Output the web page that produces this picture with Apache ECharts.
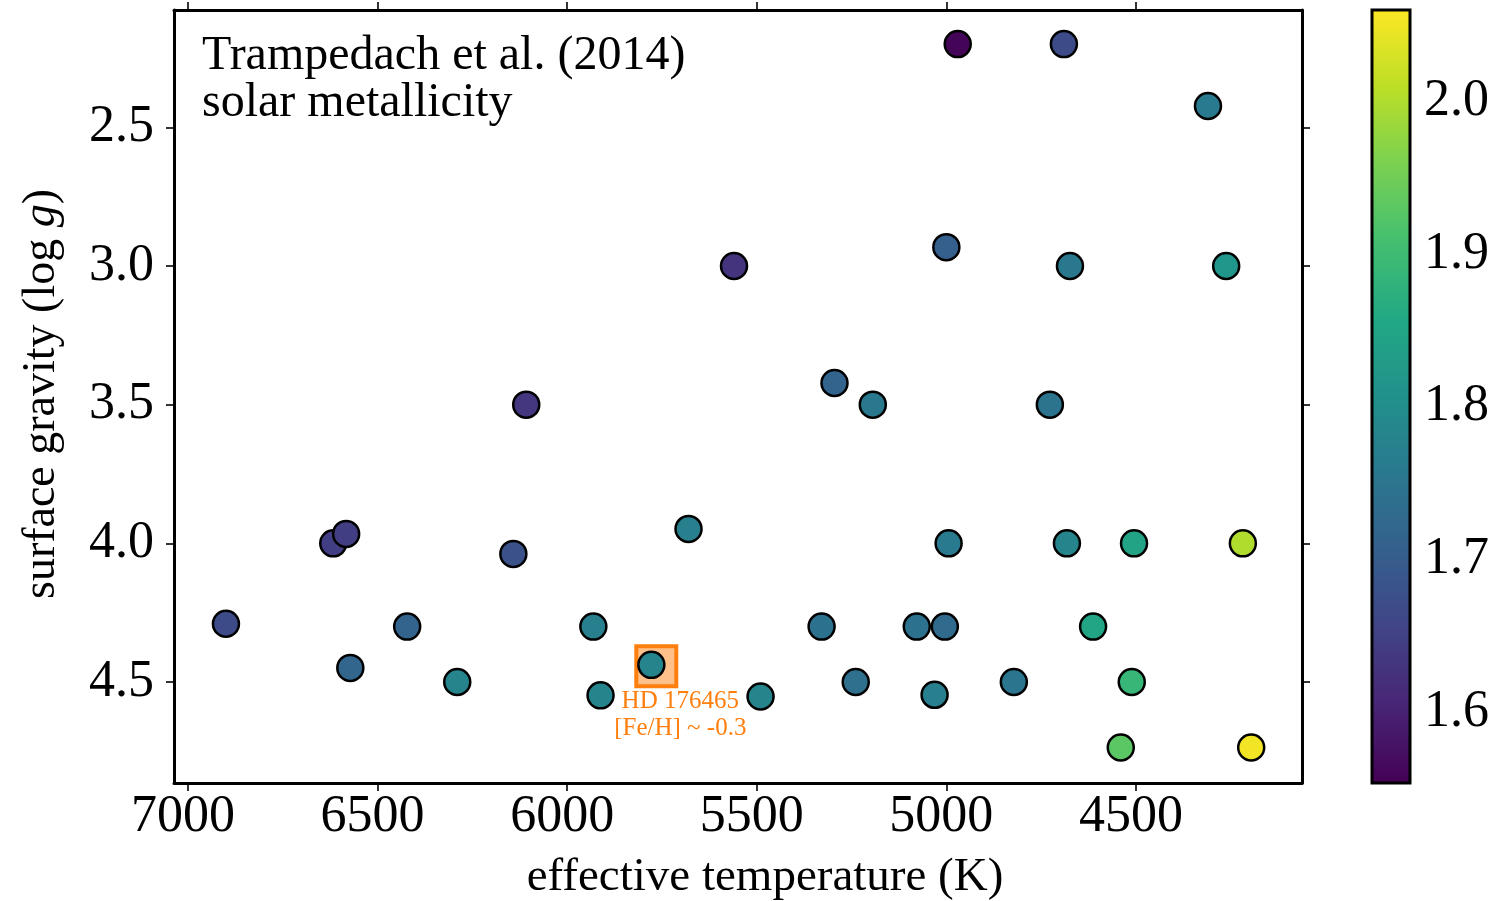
<!DOCTYPE html>
<html>
<head>
<meta charset="utf-8">
<script src="https://cdn.jsdelivr.net/npm/echarts@6/dist/echarts.min.js"></script>
<style>html,body{margin:0;padding:0;background:#fff}#c{width:1502px;height:901px}</style>
</head>
<body>
<div id="c"></div>
<script>
// Data
const teff = [4970, 4690, 4310, 5560, 5000, 4674, 4262, 6108, 5295, 5194, 4727,
              6617, 6583, 6142, 5680, 4994, 4682, 4505, 4218, 6900, 6422, 6572,
              6290, 5931, 5778, 5912, 5490, 5329, 5239, 5078, 5004, 5031, 4822,
              4613, 4511, 4540, 4196];
const logg = [2.20, 2.20, 2.423, 3.00, 2.932, 3.00, 3.00, 3.50, 3.422, 3.50, 3.50,
              4.00, 3.966, 4.038, 3.948, 4.00, 4.00, 4.00, 4.00, 4.29, 4.30, 4.449,
              4.50, 4.30, 4.438, 4.548, 4.552, 4.30, 4.50, 4.30, 4.30, 4.546, 4.50,
              4.30, 4.50, 4.736, 4.736];
const colorVal = [1.56, 1.67, 1.76, 1.63, 1.706, 1.756, 1.817, 1.635, 1.716, 1.756, 1.746,
                  1.645, 1.645, 1.68, 1.77, 1.76, 1.78, 1.847, 1.999, 1.67, 1.716, 1.72,
                  1.78, 1.77, 1.78, 1.78, 1.78, 1.745, 1.74, 1.745, 1.73, 1.77, 1.75,
                  1.85, 1.888, 1.928, 2.05];
const xTicks = [7000, 6500, 6000, 5500, 5000, 4500];
const yTicks = [2.5, 3.0, 3.5, 4.0, 4.5];
const cbTicks = [1.6, 1.7, 1.8, 1.9, 2.0];
const highlight = [[5765, 4.443]];
const highlightLabel = ['HD 176465', '[Fe/H] ~ -0.3'];
const annotation = ['Trampedach et al. (2014)', 'solar metallicity'];
const xTitle = 'effective temperature (K)';
const cbRange = [1.554, 2.0595];
const xRange = [4062, 7037];
const yRange = [2.077, 4.864];

const viridis = ['#440154','#482475','#414487','#355f8d','#2a788e','#21918c','#22a884','#44bf70','#7ad151','#bddf26','#fde725'];
const points = teff.map((t, i) => [t, logg[i], colorVal[i]]);

const FONT = 'Liberation Serif';
const axisLineStyle = {color: '#000', width: 3};
const tickStyle = {color: '#000', width: 1.6};

function xAx(pos, showLabel) {
  return {
    type: 'value', gridIndex: 0, position: pos, min: xRange[0], max: xRange[1], inverse: true,
    axisLine: {show: true, onZero: false, lineStyle: axisLineStyle},
    axisTick: {show: true, length: 8, lineStyle: tickStyle, customValues: xTicks},
    axisLabel: {show: showLabel, customValues: xTicks, fontSize: 52, fontFamily: FONT, color: '#000', margin: 8,
                padding: [0, 10, 0, 0], formatter: v => String(v)},
    splitLine: {show: false}
  };
}
function yAx(pos, showLabel) {
  return {
    type: 'value', gridIndex: 0, position: pos, min: yRange[0], max: yRange[1], inverse: true,
    axisLine: {show: true, onZero: false, lineStyle: axisLineStyle},
    axisTick: {show: true, length: 8, lineStyle: tickStyle, customValues: yTicks},
    axisLabel: {show: showLabel, customValues: yTicks, fontSize: 52, fontFamily: FONT, color: '#000', margin: 20,
                formatter: v => Number(v).toFixed(1)},
    splitLine: {show: false}
  };
}

const gradStops = viridis.map((c, i) => ({offset: 1 - i / (viridis.length - 1), color: c}));

const option = {
  backgroundColor: '#fff',
  animation: false,
  grid: [
    {left: 174, top: 10, width: 1128, height: 773},
    {left: 1372, top: 10, width: 38, height: 773}
  ],
  xAxis: [
    xAx('bottom', true),
    xAx('top', false),
    {type: 'value', gridIndex: 1, min: 0, max: 1, show: false}
  ],
  yAxis: [
    yAx('left', true),
    yAx('right', false),
    {type: 'value', gridIndex: 1, position: 'right', min: cbRange[0], max: cbRange[1],
     axisLine: {show: false},
     axisTick: {show: true, length: 8, lineStyle: tickStyle, customValues: cbTicks},
     axisLabel: {show: true, customValues: cbTicks, fontSize: 52, fontFamily: FONT, color: '#000', margin: 14,
                 formatter: v => Number(v).toFixed(1)},
     splitLine: {show: false}}
  ],
  visualMap: {
    show: false, type: 'continuous', dimension: 2, seriesIndex: 1,
    min: cbRange[0], max: cbRange[1], inRange: {color: viridis}
  },
  graphic: [
    {type: 'rect', z: 5, shape: {x: 1372, y: 10, width: 38, height: 773},
     style: {fill: new echarts.graphic.LinearGradient(0, 0, 0, 1, gradStops.slice().reverse()), stroke: '#000', lineWidth: 3}},
    {type: 'text', left: 202, top: 32, z: 10,
     style: {text: annotation.join('\n'), fontSize: 48, lineHeight: 47, fontFamily: FONT, fill: '#000'}},
    {type: 'text', x: 765, y: 878, z: 10,
     style: {text: xTitle, fontSize: 47, fontFamily: FONT, fill: '#000', align: 'center', verticalAlign: 'middle'}},
    {type: 'text', x: 42, y: 394, rotation: Math.PI / 2, z: 10,
     style: {text: '{n|surface gravity (log }{i|g}{n|)}', align: 'center', verticalAlign: 'middle',
             rich: {n: {fontSize: 46, fontFamily: FONT, fill: '#000'}, i: {fontSize: 46, fontFamily: FONT, fontStyle: 'italic', fill: '#000'}}}}
  ],
  series: [
    {type: 'scatter', xAxisIndex: 0, yAxisIndex: 0, data: highlight, symbol: 'rect', symbolSize: 40, z: 2,
     itemStyle: {color: 'rgba(255,140,40,0.55)', borderColor: '#ff7f0e', borderWidth: 4, opacity: 1},
     label: {show: true, position: 'bottom', distance: 0, offset: [24, 0],
             formatter: highlightLabel.join('\n'), fontSize: 25, lineHeight: 27, fontFamily: FONT, color: '#ff7f0e'}},
    {type: 'scatter', xAxisIndex: 0, yAxisIndex: 0, data: points, symbolSize: 26, z: 3,
     itemStyle: {borderColor: '#000', borderWidth: 2.5, opacity: 1}}
  ]
};
const chart = echarts.init(document.getElementById('c'), null, {renderer: 'canvas'});
chart.setOption(option);
</script>
</body>
</html>
